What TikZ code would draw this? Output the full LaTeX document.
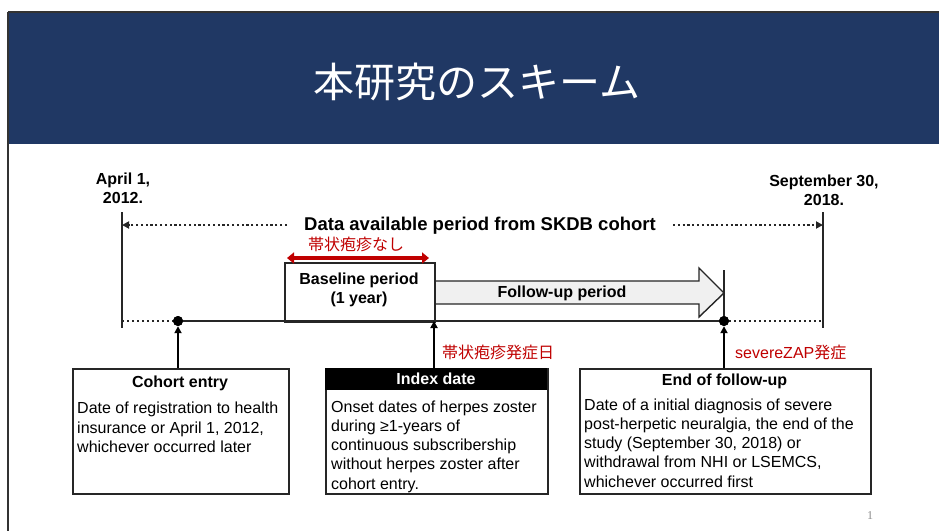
\documentclass[tikz,border=0pt]{standalone}
\usepackage{fontspec}
\setmainfont{Liberation Sans}
\newfontfamily\cjk{Noto Sans CJK JP}
\usetikzlibrary{arrows.meta}
\definecolor{hdrblue}{HTML}{203864}
\definecolor{myred}{HTML}{C00000}
\definecolor{arrfill}{HTML}{F0F0F0}
\definecolor{frame}{HTML}{333333}
\tikzset{
  txt/.style={inner sep=0pt, font=\fontsize{16}{19.2}\selectfont},
  btxt/.style={inner sep=0pt, font=\fontsize{16}{19.2}\selectfont\bfseries},
  bodytxt/.style={inner sep=0pt, align=left, font=\fontsize{16}{19.2}\selectfont},
  redj/.style={inner sep=0pt, text=myred, font=\fontsize{16}{19}\selectfont},
  boxst/.style={draw=black!85, line width=1.6pt, fill=white, inner sep=0pt},
  tline/.style={draw=black!85, line width=2pt},
  dotline/.style={draw=black!85, line width=2.4pt, dash pattern=on 2.4pt off 2.6pt},
  dotarr/.style={draw=black!85, line width=2.2pt, dash pattern=on 2.2pt off 2.6pt, -{Triangle[length=7pt,width=7pt]}},
  uparr/.style={draw=black, line width=2pt, -{Triangle[length=7pt,width=7pt]}},
  dotst/.style={circle, fill=black, inner sep=0pt, minimum size=10pt},
}
\begin{document}
\begin{tikzpicture}[x=1pt,y=-1pt]
\useasboundingbox (0,0) rectangle (939,531);
\fill[white] (0,0) rectangle (939,531);
% header
\fill[hdrblue] (8,12) rectangle (939,144);
\draw[frame, line width=1.5pt] (8,12) -- (939,12);
\draw[frame, line width=1.5pt] (8,12) -- (8,531);
\node[text=white, inner sep=0pt, font=\cjk\fontsize{41}{41}\selectfont] (title) at (477,82) {本研究のスキーム};

% date labels
\node[btxt, align=center, anchor=north] (apr) at (123,172.4) {April 1,\\2012.};
\node[btxt, align=center, anchor=north] (sep) at (824,174.4) {September 30,\\2018.};

% timeline coordinates
\coordinate (Ltop) at (122,212);
\coordinate (Lbot) at (122,328);
\coordinate (Rtop) at (823,212);
\coordinate (Rbot) at (823,328);
\coordinate (L) at (122,321);
\coordinate (R) at (823,321);
\coordinate (idx) at (434,321);
\node[dotst] (d1) at (178,321) {};
\node[dotst] (d2) at (724,321) {};

% verticals
\draw[tline] (Ltop) -- (Lbot);
\draw[tline] (Rtop) -- (Rbot);

% data available period
\node[inner sep=0pt, font=\fontsize{18.5}{20}\selectfont\bfseries] (data) at (480,226) {Data available period from SKDB cohort};
\coordinate (dl) at (287,225);
\coordinate (dr) at (673,225);
\draw[dotarr] (dl) -- (Ltop |- dl);
\draw[dotarr] (dr) -- (Rtop |- dr);

% follow-up arrow
\draw[draw=black!85, line width=1.4pt, fill=arrfill] (434,281) -- (699,281) -- (699,268) -- (724,293) -- (699,317) -- (699,304) -- (434,304);
\node[btxt] (fu) at (562,293) {Follow-up period};
\draw[tline] (724,270) -- (d2.center);

% baseline box
\node[boxst, minimum width=150pt, minimum height=59pt, anchor=north west] (base) at (284,262) {};
\node[btxt, align=center] (baset) at (359,290) {Baseline period\\(1 year)};

% red arrow
\coordinate (ra) at (287,258);
\coordinate (rb) at (429,258);
\draw[myred, line width=4.5pt, {Triangle[length=7pt,width=11pt]}-{Triangle[length=7pt,width=11pt]}] (ra) -- (rb);
\node[redj, anchor=west] (nashi) at (308,244) {\cjk 帯状疱疹なし};

% timeline
\draw[dotline] (L) -- (d1.center);
\draw[tline] (d1.center) -- (d2.center);
\draw[dotline] (d2.center) -- (R);
\node[dotst] at (d1) {};
\node[dotst] at (d2) {};

% boxes
\node[boxst, minimum width=216pt, minimum height=125pt, anchor=north west] (cohort) at (72,368) {};
\node[btxt, anchor=base] (cohortT) at (180,387) {Cohort entry};
\node[bodytxt, anchor=north west] (cohortB) at (77,402) {Date of registration to health\\insurance or April 1, 2012,\\whichever occurred later};

\node[boxst, minimum width=222pt, minimum height=125pt, anchor=north west] (index) at (325,368) {};
\node[fill=black, inner sep=0pt, minimum width=222pt, minimum height=22pt, anchor=north west] (indexH) at (325,368) {};
\node[btxt, text=white, anchor=base] (indexT) at (436,384) {Index date};
\node[bodytxt, anchor=north west] (indexB) at (331,400.4) {Onset dates of herpes zoster\\during ≥1-years of\\continuous subscribership\\without herpes zoster after\\cohort entry.};

\node[boxst, minimum width=291pt, minimum height=125pt, anchor=north west] (endb) at (579,368) {};
\node[btxt, anchor=base] (endT) at (724.5,385) {End of follow-up};
\node[bodytxt, anchor=north west] (endB) at (584,398.4) {Date of a initial diagnosis of severe\\post-herpetic neuralgia, the end of the\\study (September 30, 2018) or\\withdrawal from NHI or LSEMCS,\\whichever occurred first};

% up arrows
\draw[uparr] (cohort.north -| d1) -- (d1.south);
\draw[uparr] (index.north -| idx) -- (idx);
\draw[uparr] (endb.north -| d2) -- (d2.south);

% red labels
\node[redj, anchor=west] (onset) at (442,352) {\cjk 帯状疱疹発症日};
\node[redj, anchor=west] (zap) at (735,352) {severeZAP{\cjk 発症}};

% page number
\node[inner sep=0pt, text=black!45, font=\fontspec{Liberation Serif}\fontsize{12}{12}\selectfont] (pg) at (870,516) {1};
\end{tikzpicture}
\end{document}
